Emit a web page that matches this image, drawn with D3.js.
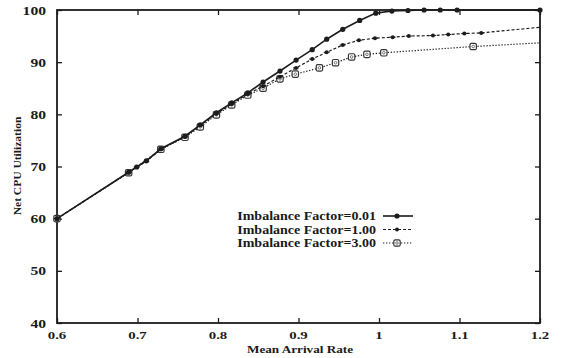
<!DOCTYPE html>
<html><head><meta charset="utf-8">
<script src="https://cdn.jsdelivr.net/npm/d3@7"></script>
<style>
html,body{margin:0;padding:0;background:#fff;}
svg text{font-family:"Liberation Serif","Times New Roman",serif;fill:#1a1a1a;}
</style></head>
<body><svg id="c" width="562" height="358"></svg>
<script>
// ---- data ----
const xTicks = [0.6, 0.7, 0.8, 0.9, 1, 1.1, 1.2];
const xTickLabels = ["0.6", "0.7", "0.8", "0.9", "1", "1.1", "1.2"];
const yTicks = [40, 50, 60, 70, 80, 90, 100];
const yTickLabels = ["40", "50", "60", "70", "80", "90", "100"];
const seriesNames = ["Imbalance Factor=0.01", "Imbalance Factor=1.00", "Imbalance Factor=3.00"];

const s1x = [0.600,0.689,0.699,0.711,0.729,0.759,0.778,0.798,0.817,0.837,0.856,0.877,0.897,0.917,0.935,0.955,0.976,0.996,1.016,1.036,1.056,1.076,1.097,1.200];
const s1y = [60.0,68.9,69.9,71.1,73.4,75.8,78.0,80.3,82.2,84.1,86.2,88.3,90.4,92.4,94.4,96.3,98.0,99.4,99.8,99.9,100,100,100,100];

const s2x = [0.600,0.689,0.699,0.711,0.729,0.759,0.778,0.798,0.817,0.837,0.856,0.877,0.897,0.917,0.935,0.955,0.975,0.995,1.017,1.037,1.067,1.086,1.106,1.127,1.200];
const s2y = [60.0,68.9,69.9,71.0,73.3,75.7,77.9,80.1,82.0,83.9,85.4,87.2,88.9,90.6,91.9,93.3,94.2,94.6,94.8,95.0,95.1,95.3,95.5,95.6,96.7];

const s3x = [0.600,0.689,0.729,0.759,0.778,0.798,0.817,0.837,0.856,0.877,0.896,0.926,0.946,0.966,0.985,1.006,1.117,1.200];
const s3y = [60.0,68.8,73.3,75.6,77.6,79.9,81.8,83.7,85.0,86.8,87.7,88.9,89.9,91.0,91.5,91.8,93.0,93.7];

// ---- layout ----
const L = 57, R = 540, T = 10, B = 323;
const svg = d3.select("#c");
const x = d3.scaleLinear().domain([0.6, 1.2]).range([L, R]);
const y = d3.scaleLinear().domain([40, 100]).range([B, T]);
const ink = "#1c1c1c";

function stxt(g, tx, ty, str, size, sx, anchor, weight, rot) {
  const t = g.append("text")
    .attr("transform", `translate(${tx},${ty})` + (rot ? ` rotate(${rot})` : "") + ` scale(${sx},1)`)
    .attr("font-size", size).attr("text-anchor", anchor || "start")
    .text(str);
  if (weight) t.attr("font-weight", weight);
  return t;
}

// axes (ticks inward)
const gx = svg.append("g").attr("transform", `translate(0,${B})`)
  .call(d3.axisTop(x).tickValues(xTicks).tickSize(5).tickFormat(""));
const gxt = svg.append("g").attr("transform", `translate(0,${T})`)
  .call(d3.axisBottom(x).tickValues(xTicks).tickSize(5).tickFormat(""));
const gy = svg.append("g").attr("transform", `translate(${L},0)`)
  .call(d3.axisRight(y).tickValues(yTicks).tickSize(5).tickFormat(""));
const gyr = svg.append("g").attr("transform", `translate(${R},0)`)
  .call(d3.axisLeft(y).tickValues(yTicks).tickSize(5).tickFormat(""));
[gx, gxt, gy, gyr].forEach(g => {
  g.select(".domain").remove();
  g.selectAll(".tick line").attr("stroke", ink).attr("stroke-width", 1.3);
});
svg.append("rect").attr("x", L).attr("y", T).attr("width", R - L).attr("height", B - T)
  .attr("fill", "none").attr("stroke", ink).attr("stroke-width", 1.8);

// tick labels
const lab = svg.append("g");
xTicks.forEach((v, i) => stxt(lab, x(v), B + 15.5, xTickLabels[i], 11, 1.35, "middle", "bold"));
yTicks.forEach((v, i) => stxt(lab, 46, y(v) + 4.5, yTickLabels[i], 12, 1.3, "end", "bold"));

// axis titles
stxt(svg, 300, 352.5, "Mean Arrival Rate", 11, 1.2, "middle", "bold");
stxt(svg, 21, 166, "Net CPU Utilization", 10.5, 1.1, "middle", "bold", -90);

// series
const series = [
  {name: seriesNames[0], xs: s1x, ys: s1y, dash: null, width: 1.6, mark: "dot"},
  {name: seriesNames[1], xs: s2x, ys: s2y, dash: "3,2", width: 1.2, mark: "small"},
  {name: seriesNames[2], xs: s3x, ys: s3y, dash: "1.3,1.7", width: 1.2, mark: "box"}
];
const line = d3.line().x(d => x(d[0])).y(d => y(d[1]));

function marker(g, s, cx, cy) {
  if (s.mark === "dot") {
    g.append("circle").attr("cx", cx).attr("cy", cy).attr("r", 2.6).attr("fill", ink);
  } else if (s.mark === "small") {
    g.append("circle").attr("cx", cx).attr("cy", cy).attr("r", 2).attr("fill", ink);
    g.append("line").attr("x1", cx - 3).attr("x2", cx + 3).attr("y1", cy).attr("y2", cy)
      .attr("stroke", ink).attr("stroke-width", 1);
  } else {
    g.append("rect").attr("x", cx - 3.2).attr("y", cy - 3.2).attr("width", 6.4).attr("height", 6.4)
      .attr("rx", 1.5).attr("fill", "#fff").attr("stroke", "#333").attr("stroke-width", 1.2);
    g.append("circle").attr("cx", cx).attr("cy", cy).attr("r", 1.3).attr("fill", "none")
      .attr("stroke", "#555").attr("stroke-width", 0.8);
  }
}

// draw in reverse so solid on top
[...series].reverse().forEach(s => {
  const pts = s.xs.map((v, i) => [v, s.ys[i]]);
  const p = svg.append("path").datum(pts).attr("d", line)
    .attr("fill", "none").attr("stroke", ink).attr("stroke-width", s.width);
  if (s.dash) p.attr("stroke-dasharray", s.dash);
  const g = svg.append("g");
  pts.forEach((d, i) => {
    if (s.mark !== "dot" && d[0] >= 1.2) return;
    marker(g, s, x(d[0]), y(d[1]));
  });
});

// legend
const lg = svg.append("g");
const legY = [216, 229.5, 243];
series.forEach((s, i) => {
  stxt(lg, 376, legY[i] + 4, s.name, 11.5, 1.22, "end", "bold");
  const l = lg.append("line").attr("x1", 383).attr("x2", 413).attr("y1", legY[i]).attr("y2", legY[i])
    .attr("stroke", ink).attr("stroke-width", s.width);
  if (s.dash) l.attr("stroke-dasharray", s.dash);
  marker(lg, s, 397, legY[i]);
});
</script></body></html>
